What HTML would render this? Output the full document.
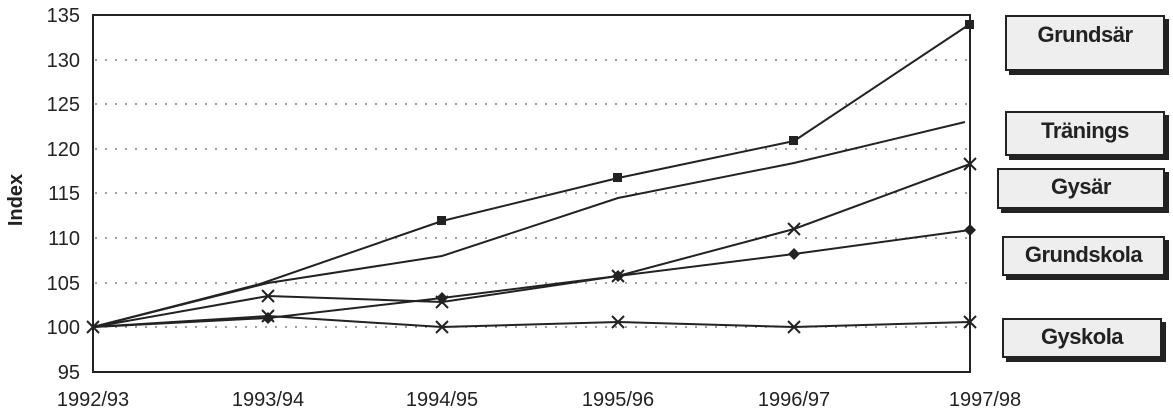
<!DOCTYPE html>
<html><head><meta charset="utf-8"><style>
body{margin:0;background:#fff;width:1173px;height:411px;overflow:hidden;font-family:"Liberation Sans",Arial,sans-serif}
.lb{position:absolute;background:#eee;border:2px solid #222;box-shadow:4px 4px 0 #222;font-weight:bold;font-size:22px;color:#222;text-align:center;box-sizing:border-box;letter-spacing:-0.5px}
</style></head><body>
<svg width="1173" height="411" style="position:absolute;left:0;top:0" font-family="Liberation Sans, Arial, sans-serif">
<g stroke="#666" stroke-dasharray="2,8" stroke-width="1.2">
<line x1="95" x2="968" y1="60" y2="60"/><line x1="95" x2="968" y1="104" y2="104"/>
<line x1="95" x2="968" y1="149" y2="149"/><line x1="95" x2="968" y1="193" y2="193"/>
<line x1="95" x2="968" y1="238" y2="238"/><line x1="95" x2="968" y1="283" y2="283"/>
<line x1="95" x2="968" y1="327" y2="327"/>
</g>
<rect x="93" y="15" width="877" height="357" fill="none" stroke="#222" stroke-width="2"/>
<g font-size="20" fill="#222" text-anchor="end">
<text x="80" y="22">135</text><text x="80" y="67">130</text><text x="80" y="111">125</text>
<text x="80" y="156">120</text><text x="80" y="200">115</text><text x="80" y="245">110</text>
<text x="80" y="290">105</text><text x="80" y="334">100</text><text x="80" y="379">95</text>
</g>
<text transform="translate(22,200) rotate(-90)" font-size="20" font-weight="bold" text-anchor="middle" fill="#222">Index</text>
<g font-size="20" fill="#222" text-anchor="middle">
<text x="93" y="406">1992/93</text><text x="268" y="406">1993/94</text><text x="442" y="406">1994/95</text>
<text x="618" y="406">1995/96</text><text x="794" y="406">1996/97</text><text x="985" y="406">1997/98</text>
</g>
<g fill="none" stroke="#222" stroke-width="2">
<polyline points="93,327 260,284 442,221 618,178 794,141 970,24"/>
<polyline points="93,327 268,283 442,256 618,198 794,163 965,122"/>
<polyline points="93,327 268,296 442,302 618,276 794,229 970,164"/>
<polyline points="93,327 268,318 442,298 618,276 794,254 970,230"/>
<polyline points="93,327 268,316 442,327 618,322 794,327 970,322"/>
</g>
<g fill="#222">
<rect x="437" y="216" width="9" height="9"/><rect x="613" y="173" width="9" height="9"/>
<rect x="789" y="136" width="9" height="9"/><rect x="965" y="20" width="9" height="9"/>
<path d="M268 312l6 6-6 6-6-6zM442 292l6 6-6 6-6-6zM618 270l6 6-6 6-6-6zM794 248l6 6-6 6-6-6zM970 224l6 6-6 6-6-6z"/>
</g>
<g stroke="#222" stroke-width="2">
<path d="M87 321l12 12M99 321l-12 12"/>
<path d="M262 290l12 12M274 290l-12 12M436 296l12 12M448 296l-12 12M612 270l12 12M624 270l-12 12M788 223l12 12M800 223l-12 12M964 158l12 12M976 158l-12 12"/>
<path d="M262 310l12 12M274 310l-12 12M436 321l12 12M448 321l-12 12M612 316l12 12M624 316l-12 12M788 321l12 12M800 321l-12 12M964 316l12 12M976 316l-12 12"/>
</g>
</svg>
<div class="lb" style="left:1005px;top:15px;width:160px;height:56px;line-height:36px">Grundsär</div>
<div class="lb" style="left:1005px;top:111px;width:160px;height:45px;line-height:36px">Tränings</div>
<div class="lb" style="left:997px;top:168px;width:168px;height:41px;line-height:34px">Gysär</div>
<div class="lb" style="left:1002px;top:236px;width:163px;height:40px;line-height:34px">Grundskola</div>
<div class="lb" style="left:1002px;top:318px;width:160px;height:40px;line-height:34px">Gyskola</div>
</body></html>
